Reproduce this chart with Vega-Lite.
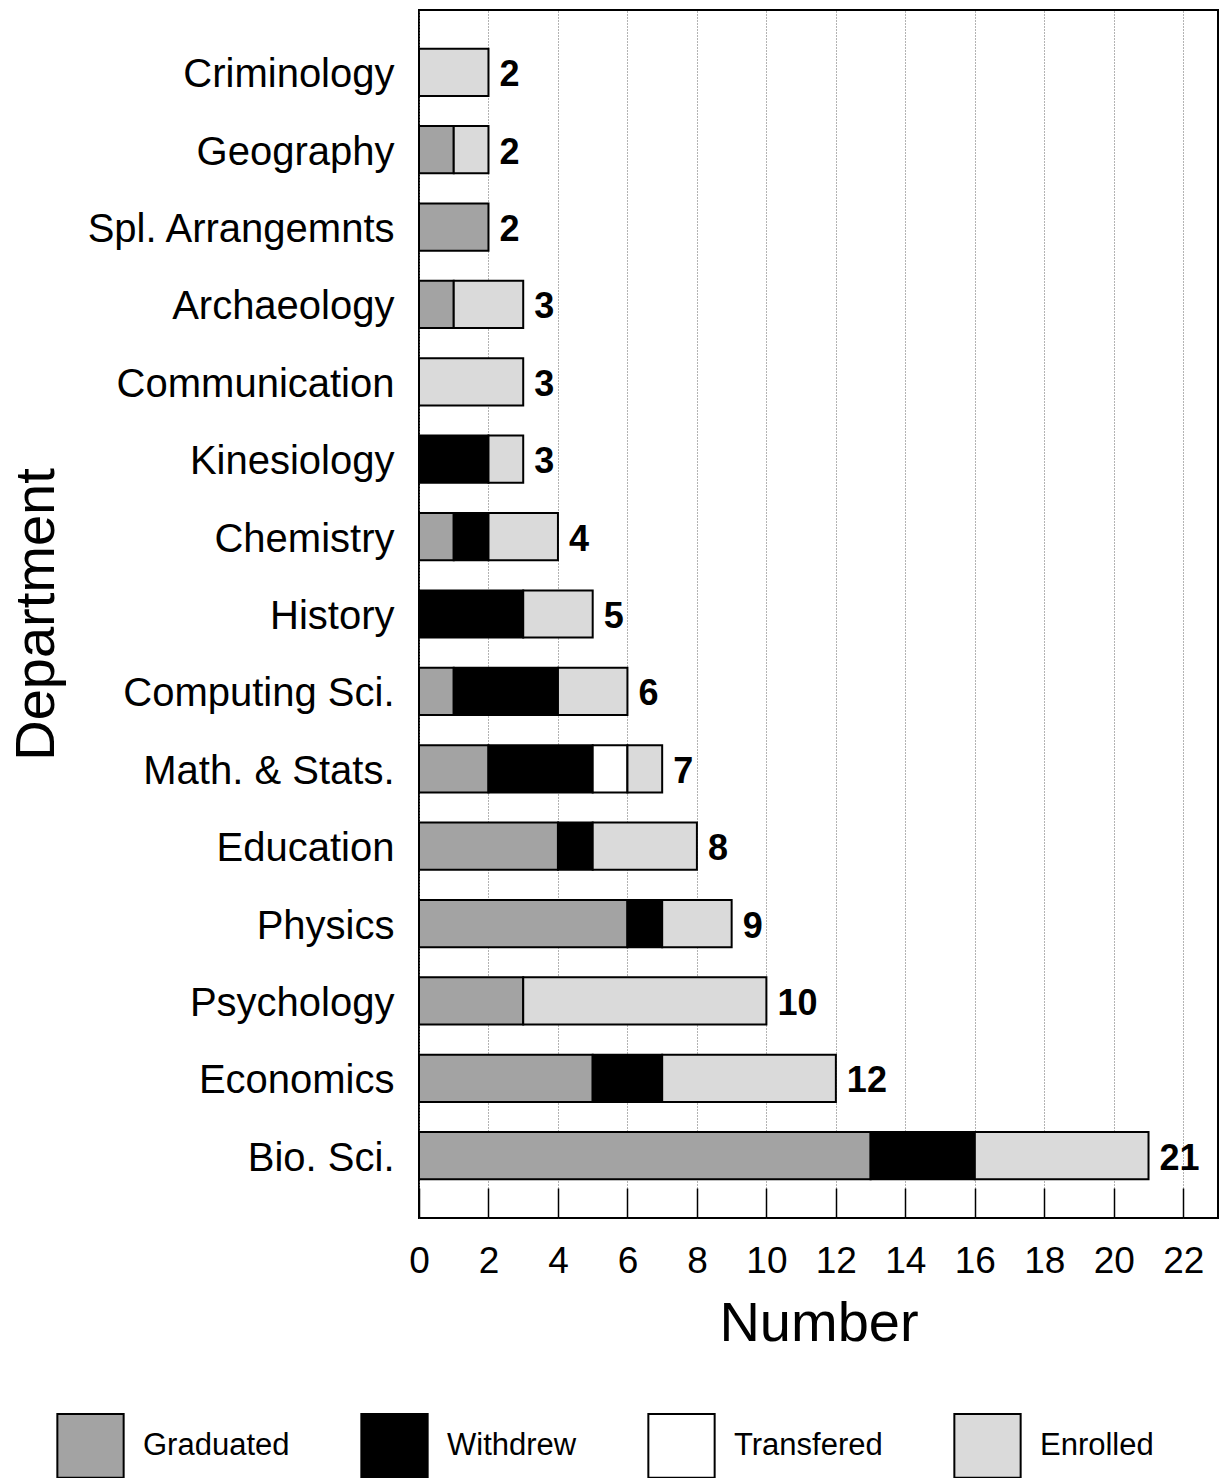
{
  "$schema": "https://vega.github.io/schema/vega-lite/v6.json",
  "width": 799,
  "height": 1208,
  "autosize": "none",
  "padding": {"left": 419, "top": 10, "right": 3, "bottom": 260},
  "background": "white",
  "config": {"font": "Liberation Sans", "view": {"stroke": "black", "strokeWidth": 2}},
  "data": {"values": [
    {"dept": "Criminology", "status": "Enrolled", "k": 4, "count": 2},
    {"dept": "Geography", "status": "Graduated", "k": 1, "count": 1},
    {"dept": "Geography", "status": "Enrolled", "k": 4, "count": 1},
    {"dept": "Spl. Arrangemnts", "status": "Graduated", "k": 1, "count": 2},
    {"dept": "Archaeology", "status": "Graduated", "k": 1, "count": 1},
    {"dept": "Archaeology", "status": "Enrolled", "k": 4, "count": 2},
    {"dept": "Communication", "status": "Enrolled", "k": 4, "count": 3},
    {"dept": "Kinesiology", "status": "Withdrew", "k": 2, "count": 2},
    {"dept": "Kinesiology", "status": "Enrolled", "k": 4, "count": 1},
    {"dept": "Chemistry", "status": "Graduated", "k": 1, "count": 1},
    {"dept": "Chemistry", "status": "Withdrew", "k": 2, "count": 1},
    {"dept": "Chemistry", "status": "Enrolled", "k": 4, "count": 2},
    {"dept": "History", "status": "Withdrew", "k": 2, "count": 3},
    {"dept": "History", "status": "Enrolled", "k": 4, "count": 2},
    {"dept": "Computing Sci.", "status": "Graduated", "k": 1, "count": 1},
    {"dept": "Computing Sci.", "status": "Withdrew", "k": 2, "count": 3},
    {"dept": "Computing Sci.", "status": "Enrolled", "k": 4, "count": 2},
    {"dept": "Math. & Stats.", "status": "Graduated", "k": 1, "count": 2},
    {"dept": "Math. & Stats.", "status": "Withdrew", "k": 2, "count": 3},
    {"dept": "Math. & Stats.", "status": "Transfered", "k": 3, "count": 1},
    {"dept": "Math. & Stats.", "status": "Enrolled", "k": 4, "count": 1},
    {"dept": "Education", "status": "Graduated", "k": 1, "count": 4},
    {"dept": "Education", "status": "Withdrew", "k": 2, "count": 1},
    {"dept": "Education", "status": "Enrolled", "k": 4, "count": 3},
    {"dept": "Physics", "status": "Graduated", "k": 1, "count": 6},
    {"dept": "Physics", "status": "Withdrew", "k": 2, "count": 1},
    {"dept": "Physics", "status": "Enrolled", "k": 4, "count": 2},
    {"dept": "Psychology", "status": "Graduated", "k": 1, "count": 3},
    {"dept": "Psychology", "status": "Enrolled", "k": 4, "count": 7},
    {"dept": "Economics", "status": "Graduated", "k": 1, "count": 5},
    {"dept": "Economics", "status": "Withdrew", "k": 2, "count": 2},
    {"dept": "Economics", "status": "Enrolled", "k": 4, "count": 5},
    {"dept": "Bio. Sci.", "status": "Graduated", "k": 1, "count": 13},
    {"dept": "Bio. Sci.", "status": "Withdrew", "k": 2, "count": 3},
    {"dept": "Bio. Sci.", "status": "Enrolled", "k": 4, "count": 5}
  ]},
  "layer": [
    {
      "mark": {"type": "bar", "stroke": "black", "strokeWidth": 2},
      "encoding": {
        "y": {
          "field": "dept", "type": "nominal",
          "sort": ["Criminology", "Geography", "Spl. Arrangemnts", "Archaeology", "Communication", "Kinesiology", "Chemistry", "History", "Computing Sci.", "Math. & Stats.", "Education", "Physics", "Psychology", "Economics", "Bio. Sci."],
          "scale": {"paddingInner": 0.39, "paddingOuter": 0.5},
          "axis": {
            "title": "Department", "titleFontSize": 56, "titleFontWeight": "normal", "titleColor": "black",
            "titleX": -366, "titleY": 604, "titleBaseline": "alphabetic", "titleAlign": "center", "titleAngle": -90,
            "labelFontSize": 40, "labelPadding": 25, "labelOffset": 3, "labelColor": "black", "labelLimit": 0,
            "ticks": false, "domain": false
          }
        },
        "x": {
          "field": "count", "type": "quantitative", "stack": "zero",
          "scale": {"domain": [0, 23], "nice": false},
          "axis": {
            "title": "Number", "titleFontSize": 56, "titleFontWeight": "normal", "titleColor": "black",
            "titleX": 399.5, "titleY": 122, "titleBaseline": "alphabetic", "titleAlign": "center",
            "values": [0, 2, 4, 6, 8, 10, 12, 14, 16, 18, 20, 22],
            "grid": true, "gridDash": [1, 2], "gridColor": "#666666", "gridWidth": 1,
            "tickSize": -30, "tickColor": "black", "tickWidth": 1.5,
            "labelFontSize": 37, "labelPadding": 84, "labelBaseline": "alphabetic", "labelColor": "black",
            "labelFlush": false, "domain": false
          }
        },
        "color": {
          "field": "status", "type": "nominal",
          "scale": {"domain": ["Graduated", "Withdrew", "Transfered", "Enrolled"], "range": ["#a3a3a3", "#000000", "#ffffff", "#dadada"]},
          "legend": {
            "orient": "none", "legendX": -362, "legendY": 1402, "direction": "horizontal", "title": null,
            "symbolType": "M-1.02,-0.98H1.02V0.98H-1.02Z", "symbolSize": 4225,
            "symbolStrokeColor": "black", "symbolStrokeWidth": 2, "symbolOpacity": 1,
            "labelFontSize": 31, "labelOffset": 19, "columnPadding": 67, "labelColor": "black", "padding": 0
          }
        },
        "order": {"field": "k", "type": "quantitative"}
      }
    },
    {
      "transform": [{"aggregate": [{"op": "sum", "field": "count", "as": "total"}], "groupby": ["dept"]}],
      "mark": {"type": "text", "align": "left", "baseline": "middle", "dx": 11, "dy": 3, "fontSize": 36, "fontWeight": "bold", "color": "black"},
      "encoding": {
        "y": {"field": "dept", "type": "nominal", "sort": ["Criminology", "Geography", "Spl. Arrangemnts", "Archaeology", "Communication", "Kinesiology", "Chemistry", "History", "Computing Sci.", "Math. & Stats.", "Education", "Physics", "Psychology", "Economics", "Bio. Sci."]},
        "x": {"field": "total", "type": "quantitative"},
        "text": {"field": "total", "type": "quantitative"}
      }
    }
  ]
}
